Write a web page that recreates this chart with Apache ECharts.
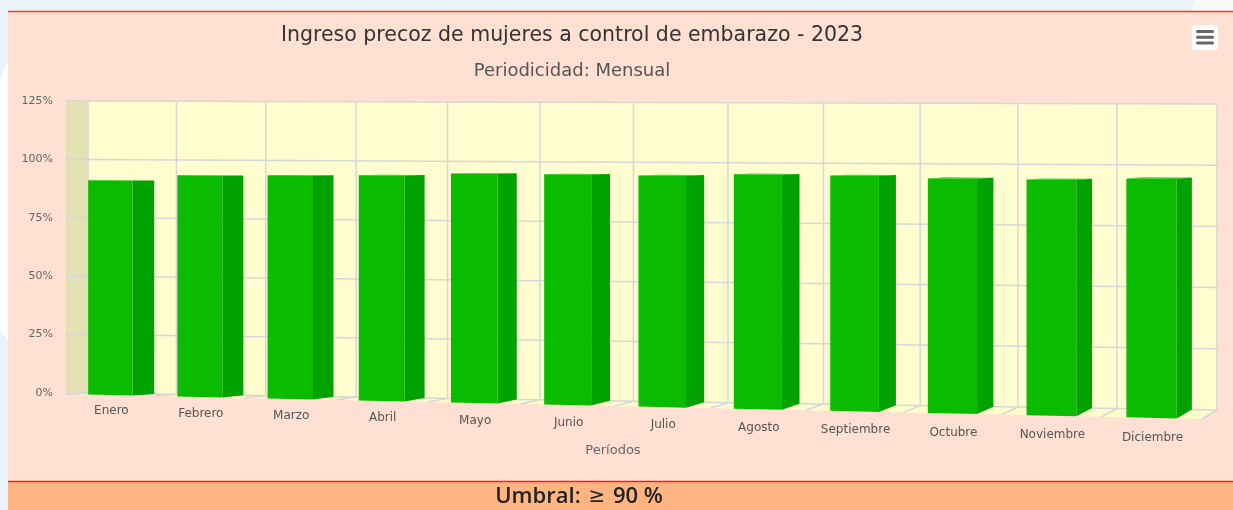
<!DOCTYPE html>
<html>
<head>
<meta charset="utf-8">
<title>Ingreso precoz de mujeres a control de embarazo - 2023</title>
<script src="https://cdn.jsdelivr.net/npm/echarts@6/dist/echarts.min.js"></script>
<style>
  html, body { margin: 0; padding: 0; background: #eaf2fb; }
  #chart { width: 1233px; height: 510px; }
</style>
</head>
<body>
<div id="chart"></div>
<script>
// datos del grafico
const meses = ['Enero', 'Febrero', 'Marzo', 'Abril', 'Mayo', 'Junio', 'Julio',
  'Agosto', 'Septiembre', 'Octubre', 'Noviembre', 'Diciembre'];
const porcentajes = [91.1, 93.5, 93.8, 94.1, 95.1, 95.0, 94.8, 95.5, 95.3, 94.4, 94.2, 94.9];
const ticksY = [0, 25, 50, 75, 100, 125];
const umbral = 90;

// perspectiva aproximada del grafico 3d original
const vista = {
  k: 1.07,
  frente: { dx: 0, ancho: 1136, abajo: 1, caida: 25, arriba: -0.5, subida: 2.5 },
  fondo: { dx: 22, ancho: 1129, abajo: 0, caida: 17, arriba: 0, subida: 3 },
  profBarra: 1
};

// t: fraccion horizontal del grid, s: fraccion vertical (0 abajo), z: profundidad (0 frente)
function proyectar(cs, t, s, z) {
  const u = t / (vista.k - (vista.k - 1) * t);
  const plano = function (p) {
    const x = cs.x + p.dx + p.ancho * u;
    const yAbajo = cs.y + cs.height + p.abajo + p.caida * u;
    const yArriba = cs.y + p.arriba + p.subida * u;
    return [x, yAbajo + (yArriba - yAbajo) * s];
  };
  const f = plano(vista.frente), b = plano(vista.fondo);
  return [f[0] + (b[0] - f[0]) * z, f[1] + (b[1] - f[1]) * z];
}

function dibujarParedes(params, api) {
  const cs = params.coordSys;
  const P = (t, s, z) => proyectar(cs, t, s, z);
  const linea = { stroke: '#d6d6d6', lineWidth: 1.5, fill: 'none' };
  const hijos = [
    // piso
    { type: 'polygon', shape: { points: [P(0, 0, 0), P(1, 0, 0), P(1, 0, 1), P(0, 0, 1)] }, style: { fill: '#fdfccb' } },
    // pared lateral
    { type: 'polygon', shape: { points: [P(0, 0, 0), P(0, 1, 0), P(0, 1, 1), P(0, 0, 1)] }, style: { fill: '#e4e2b5' } },
    // pared de fondo
    { type: 'polygon', shape: { points: [P(0, 0, 1), P(1, 0, 1), P(1, 1, 1), P(0, 1, 1)] }, style: { fill: '#fffdd0' } }
  ];
  ticksY.forEach(function (v) {
    const s = (cs.y + cs.height - api.coord([0, v])[1]) / cs.height;
    hijos.push({ type: 'polyline', shape: { points: [P(0, s, 0), P(0, s, 1), P(1, s, 1)] }, style: linea });
  });
  for (let j = 0; j <= meses.length; j++) {
    const t = j / meses.length;
    hijos.push({ type: 'polyline', shape: { points: [P(t, 0, 0), P(t, 0, 1), P(t, 1, 1)] }, style: linea });
  }
  return { type: 'group', children: hijos };
}

function dibujarBarra(params, api) {
  const cs = params.coordSys;
  const i = api.value(0);
  const tope = api.coord([i, api.value(1)]);
  const base = api.coord([i, 0]);
  const ancho = api.size([1, 0])[0] * 0.5;
  const t0 = (tope[0] - ancho / 2 - cs.x) / cs.width;
  const t1 = (tope[0] + ancho / 2 - cs.x) / cs.width;
  const s = (base[1] - tope[1]) / cs.height;
  const zb = vista.profBarra;
  const P = (t, s, z) => proyectar(cs, t, s, z);
  const pie = P((t0 + t1) / 2, 0, 0);
  const bajada = 16 + 4 * (t0 + t1) / 2;
  return {
    type: 'group',
    children: [
      { type: 'polygon', shape: { points: [P(t0, s, 0), P(t1, s, 0), P(t1, s, zb), P(t0, s, zb)] }, style: { fill: '#3acb30' } },
      { type: 'polygon', shape: { points: [P(t1, 0, 0), P(t1, 0, zb), P(t1, s, zb), P(t1, s, 0)] }, style: { fill: '#00a200' } },
      { type: 'polygon', shape: { points: [P(t0, 0, 0), P(t1, 0, 0), P(t1, s, 0), P(t0, s, 0)] }, style: { fill: '#0bbb00' } },
      {
        type: 'text', x: pie[0] + 1, y: pie[1] + bajada,
        style: { text: meses[i], fill: '#555', font: '12px "DejaVu Sans"', textAlign: 'center', textVerticalAlign: 'middle' }
      }
    ]
  };
}

const chart = echarts.init(document.getElementById('chart'));
chart.setOption({
  animation: false,
  graphic: [
    { type: 'polygon', z: -100, shape: { points: [[0, 80], [8, 60], [8, 340], [0, 330]] }, style: { fill: '#ffffff' } },
    { type: 'polygon', z: -100, shape: { points: [[1195, 0], [1233, 0], [1233, 11], [1190, 11]] }, style: { fill: '#f7fafd' } },
    { type: 'rect', z: -100, shape: { x: 8, y: 11, width: 1225, height: 470 }, style: { fill: '#ffe0d2' } },
    { type: 'line', z: -99, shape: { x1: 8, y1: 11.5, x2: 1233, y2: 11.5 }, style: { stroke: '#ff3a1a', lineWidth: 1.5 } },
    { type: 'rect', z: -100, shape: { x: 8, y: 481, width: 1225, height: 29 }, style: { fill: '#ffb482' } },
    { type: 'line', z: -99, shape: { x1: 8, y1: 481.5, x2: 1233, y2: 481.5 }, style: { stroke: '#ff1a1a', lineWidth: 1.5 } },
    {
      type: 'text', z: 10, x: 579, y: 497,
      style: {
        text: '{a|Umbral: }{b|\u2265}{a| ' + umbral + ' %}',
        textAlign: 'center', textVerticalAlign: 'middle',
        rich: {
          a: { fill: '#222', font: '600 22px "Open Sans"' },
          b: { fill: '#222', font: '20px "DejaVu Sans"', padding: [0, 2, 0, 2] }
        }
      }
    },
    {
      type: 'text', z: 10, x: 572, y: 36,
      style: { text: 'Ingreso precoz de mujeres a control de embarazo - 2023', fill: '#333', font: '20.5px "DejaVu Sans"', textAlign: 'center', textVerticalAlign: 'middle' }
    },
    {
      type: 'text', z: 10, x: 572, y: 71,
      style: { text: 'Periodicidad: Mensual', fill: '#555', font: '18px "DejaVu Sans"', textAlign: 'center', textVerticalAlign: 'middle' }
    },
    {
      type: 'text', z: 10, x: 613, y: 451,
      style: { text: 'Períodos', fill: '#666', font: '13px "DejaVu Sans"', textAlign: 'center', textVerticalAlign: 'middle' }
    },
    // boton de menu
    { type: 'rect', z: 10, shape: { x: 1192, y: 25, width: 26, height: 25, r: 3 }, style: { fill: '#ffffff' } },
    { type: 'line', z: 11, shape: { x1: 1197.5, y1: 31.5, x2: 1212.5, y2: 31.5 }, style: { stroke: '#666', lineWidth: 3, lineCap: 'round' } },
    { type: 'line', z: 11, shape: { x1: 1197.5, y1: 37.3, x2: 1212.5, y2: 37.3 }, style: { stroke: '#666', lineWidth: 3, lineCap: 'round' } },
    { type: 'line', z: 11, shape: { x1: 1197.5, y1: 43, x2: 1212.5, y2: 43 }, style: { stroke: '#666', lineWidth: 3, lineCap: 'round' } }
  ],
  grid: { left: 66, right: 16, top: 101, bottom: 117 },
  xAxis: { type: 'category', data: meses, show: false },
  yAxis: {
    type: 'value', min: 0, max: 125, interval: 25,
    axisLine: { show: false }, axisTick: { show: false }, splitLine: { show: false },
    axisLabel: { formatter: '{value}%', color: '#666', fontSize: 11, fontFamily: 'DejaVu Sans', margin: 13 }
  },
  series: [
    {
      type: 'custom', silent: true, clip: false, z: 1,
      renderItem: dibujarParedes,
      data: [[0, 0]]
    },
    {
      type: 'custom', silent: true, clip: false, z: 2,
      renderItem: dibujarBarra,
      encode: { x: 0, y: 1 },
      data: porcentajes.map((v, i) => [i, v])
    }
  ]
});
</script>
</body>
</html>
